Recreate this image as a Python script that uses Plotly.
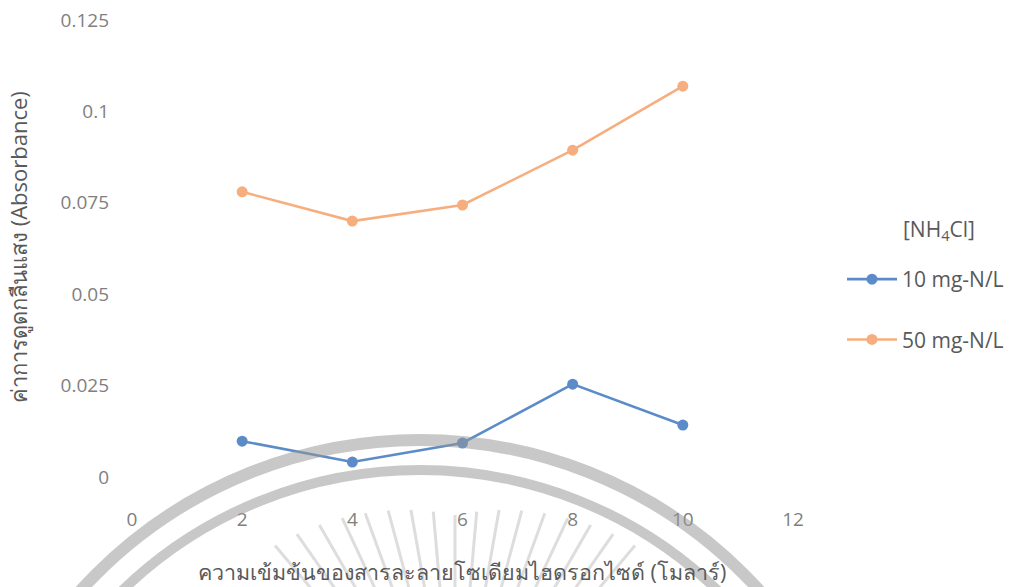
import math
import plotly.graph_objects as go

# NaOH concentration (M) and absorbance readings for two NH4Cl levels
naoh_molar = [2, 4, 6, 8, 10]
abs_10mgN = [0.0098, 0.0041, 0.0093, 0.0254, 0.0142]
abs_50mgN = [0.0780, 0.0700, 0.0744, 0.0894, 0.1069]
series_names = ["10 mg-N/L", "50 mg-N/L"]
x_ticks = [0, 2, 4, 6, 8, 10, 12]
y_ticks = [0, 0.025, 0.05, 0.075, 0.1, 0.125]
y_tick_text = ["0", "0.025", "0.05", "0.075", "0.1", "0.125"]

FONT = "Open Sans, Noto Sans, DejaVu Sans, sans-serif"
W, H = 1022, 587
L, R, T, B = 132, 229, 20, 81

fig = go.Figure()
for ys, name, col in [(abs_10mgN, series_names[0], "#5b8cc8"),
                      (abs_50mgN, series_names[1], "#f6ae7e")]:
    fig.add_trace(go.Scatter(
        x=naoh_molar, y=ys, name=name, mode="lines+markers",
        legendgroup=name,
        line=dict(color=col, width=2.6),
        marker=dict(color=col, size=11),
    ))


def px_x(p):
    return (p - L) / (W - L - R)


def px_y(p):
    return 1 - (p - T) / (H - T - B)


# faint emblem across the lower part of the page (pixel-sized shapes)
shapes = []
grey = "rgba(150,150,150,0.52)"
for rad, wid in [(458, 12), (428, 10)]:
    shapes.append(dict(type="circle", xref="paper", yref="paper",
                       xsizemode="pixel", ysizemode="pixel",
                       xanchor=px_x(420), yanchor=px_y(898),
                       x0=-rad, x1=rad, y0=-rad, y1=rad,
                       line=dict(color=grey, width=wid), layer="above"))
cx, cy = 455, 760
for ang in range(50, 131, 5):
    a = math.radians(ang)
    r0 = 165
    r1 = 245 + 35 * abs(ang - 90) / 40
    shapes.append(dict(type="line", xref="paper", yref="paper",
                       xsizemode="pixel", ysizemode="pixel",
                       xanchor=px_x(cx), yanchor=px_y(cy),
                       x0=r0 * math.cos(a), y0=r0 * math.sin(a),
                       x1=r1 * math.cos(a), y1=r1 * math.sin(a),
                       line=dict(color="rgba(150,150,150,0.32)", width=3),
                       layer="above"))

annotations = [
    dict(text="ความเข้มข้นของสารละลายโซเดียมไฮดรอกไซด์ (โมลาร์)",
         xref="paper", yref="paper", x=px_x(462), y=px_y(571),
         xanchor="center", yanchor="middle", showarrow=False,
         font=dict(size=21.5, color="#595959")),
    dict(text="ค่าการดูดกลืนแสง (Absorbance)",
         xref="paper", yref="paper", x=px_x(18), y=px_y(247),
         xanchor="center", yanchor="middle", showarrow=False, textangle=-90,
         font=dict(size=22, color="#595959")),
    dict(text="[NH<sub>4</sub>Cl]",
         xref="paper", yref="paper", x=px_x(939), y=px_y(230),
         xanchor="center", yanchor="middle", showarrow=False,
         font=dict(size=21, color="#595959")),
]

fig.update_layout(
    width=W, height=H,
    margin=dict(l=L, r=R, t=T, b=B, autoexpand=False),
    paper_bgcolor="white", plot_bgcolor="white",
    font=dict(family=FONT, color="#595959"),
    shapes=shapes,
    annotations=annotations,
    xaxis=dict(range=[0, 12], tickvals=x_ticks, showgrid=False,
               zeroline=False, showline=False,
               tickfont=dict(size=19, color="#7f7f7f")),
    yaxis=dict(range=[-0.00793, 0.125], tickvals=y_ticks, ticktext=y_tick_text,
               showgrid=False, zeroline=False, showline=False,
               ticklabelstandoff=22,
               tickfont=dict(size=19, color="#7f7f7f")),
    legend=dict(x=px_x(842), y=px_y(259), xanchor="left", yanchor="top",
                font=dict(size=21, color="#595959"),
                tracegroupgap=30, itemwidth=50, bgcolor="rgba(0,0,0,0)"),
)

fig.write_html("out.html")
